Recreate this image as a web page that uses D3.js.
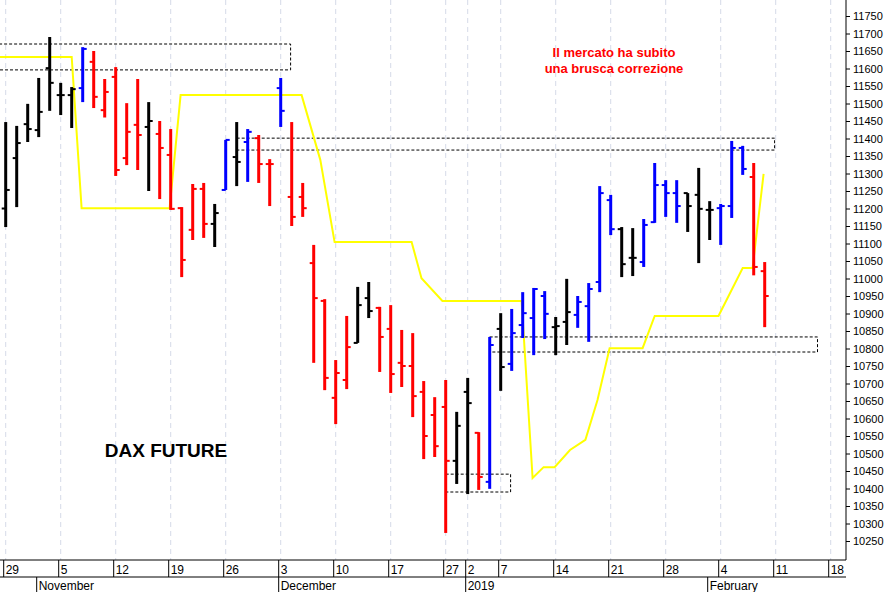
<!DOCTYPE html>
<html><head><meta charset="utf-8">
<script src="https://d3js.org/d3.v7.min.js"></script>
<style>body{margin:0;background:#fff}svg{display:block}text{font-family:"Liberation Sans",Arial,sans-serif}</style>
</head><body><svg id="c" width="896" height="592"></svg>
<script>
// bar index (trading day, 0 = 29 Oct 2018)
const opens  = [11200,11344,11441,11424,11601,11524,11524,11544,11619,11481,11576,11344,11439,11433,11413,11353,11201,11139,11256,11156,11253,11347,11390,11401,11327,11544,11233,11233,11044,10936,10659,10710,10816,10944,10916,10856,10759,10750,10676,10610,10633,10479,10676,10559,10419,10856,10756,10867,10887,10950,10861,10876,10896,10921,10990,11224,11141,11059,11047,11161,11267,11244,11244,11239,11196,11201,11207,11373,11290,11021];
const highs  = [11447,11436,11499,11573,11690,11559,11547,11661,11650,11570,11604,11501,11570,11504,11450,11427,11204,11270,11273,11213,11396,11447,11427,11410,11341,11573,11447,11273,11096,10941,10767,10893,10976,10990,10919,10924,10853,10844,10707,10661,10710,10619,10716,10561,10833,10901,10913,10961,10973,10964,10890,10999,10950,10987,11264,11239,11147,11144,11170,11330,11281,11281,11244,11316,11221,11213,11393,11379,11330,11047];
const lows   = [11147,11204,11390,11404,11479,11467,11430,11504,11487,11460,11293,11324,11310,11250,11227,11196,11004,11110,11116,11090,11253,11264,11276,11273,11207,11433,11150,11176,10759,10681,10584,10684,10816,10887,10733,10673,10690,10604,10484,10490,10273,10413,10384,10396,10399,10679,10736,10830,10781,10827,10781,10810,10859,10819,10961,11124,11004,11007,11033,11159,11176,11159,11133,11044,11110,11096,11173,11296,11009,10861];
const closes = [11253,11387,11427,11476,11559,11524,11541,11656,11519,11533,11310,11419,11410,11450,11373,11199,11053,11256,11156,11187,11396,11333,11419,11327,11327,11479,11176,11201,10944,10716,10730,10804,10924,10907,10833,10727,10750,10664,10550,10521,10479,10579,10644,10433,10810,10747,10844,10901,10970,10899,10864,10904,10933,10970,11244,11141,11041,11059,11153,11267,11244,11207,11207,11199,11196,11207,11373,11313,11033,10950];
const colors = "kkkkkkkbrrrrrkrrrrrkbkbrrbrrrrrrkkrrrrrrrkkrbkbbbbkkbbbbkkbbbbkkkbbbrr";
// yellow line: [bar index, value]
const yellowIdx = [-1,6,6.9,14.9,15.9,26.9,28.6,29.9,36.9,37.8,39.7,46.9,47.9,48.9,49.9,51.3,52.7,53.8,54.9,57.9,59,64.8,67,67.9,68.9];
const yellowVal = [11633,11633,11201,11201,11524,11524,11339,11104,11104,11001,10936,10936,10430,10461,10461,10510,10539,10653,10801,10801,10893,10893,11030,11030,11299];
// dashed boxes: [start idx, end idx, top value, bottom value]
const boxes = [[-0.6,25.9,11670,11596],[21,69.9,11401,11367],[44,73.8,10833,10790],[40,45.9,10441,10390]];
const dayTicks = [[0,"29"],[5,"5"],[10,"12"],[15,"19"],[20,"26"],[25,"3"],[30,"10"],[35,"17"],[40,"27"],[42,"2"],[45,"7"],[50,"14"],[55,"21"],[60,"28"],[65,"4"],[70,"11"],[75,"18"]];
const monthTicks = [[3,"November"],[25,"December"],[42,"2019"],[64,"February"]];
const yTicks = d3.range(10250,11751,50);

const svg = d3.select("#c");
const x = d3.scaleLinear().domain([0,1]).range([5.7,16.7]);
const y = d3.scaleLinear().domain([10250,11750]).range([541,16]);
const right = 846, bottom = 560;

// grid
svg.append("g").selectAll("line").data(dayTicks).join("line")
  .attr("x1",d=>x(d[0])).attr("x2",d=>x(d[0])).attr("y1",0).attr("y2",bottom)
  .attr("stroke","#d6dbe8").attr("stroke-dasharray","5,4");

// boxes
svg.append("g").selectAll("rect").data(boxes).join("rect")
  .attr("x",d=>x(d[0])).attr("width",d=>x(d[1])-x(d[0]))
  .attr("y",d=>y(d[2])).attr("height",d=>y(d[3])-y(d[2]))
  .attr("fill","none").attr("stroke","#000").attr("stroke-width",1).attr("stroke-dasharray","3,2");

// yellow
svg.append("path").datum(d3.zip(yellowIdx,yellowVal))
  .attr("d",d3.line().x(d=>x(d[0])).y(d=>y(d[1])))
  .attr("fill","none").attr("stroke","#ffff00").attr("stroke-width",2);

// bars
const cmap = {k:"#000",r:"#ff0000",b:"#0000ff"};
const bars = svg.append("g").selectAll("g").data(d3.range(opens.length)).join("g")
  .attr("stroke",i=>cmap[colors[i]]).attr("stroke-width",3);
bars.append("line").attr("x1",i=>x(i)).attr("x2",i=>x(i)).attr("y1",i=>y(highs[i])).attr("y2",i=>y(lows[i]));
bars.append("line").attr("x1",i=>x(i)-4).attr("x2",i=>x(i)).attr("y1",i=>y(opens[i])).attr("y2",i=>y(opens[i])).attr("stroke-width",2);
bars.append("line").attr("x1",i=>x(i)).attr("x2",i=>x(i)+4).attr("y1",i=>y(closes[i])).attr("y2",i=>y(closes[i])).attr("stroke-width",2);

// y axis
svg.append("rect").attr("x",right).attr("y",0).attr("width",896-right).attr("height",592).attr("fill","#fff");
const ya = svg.append("g").attr("transform",`translate(${right},0)`)
  .call(d3.axisRight(y).tickValues(yTicks).tickSize(4).tickPadding(3).tickFormat(d3.format("d")));
ya.select(".domain").attr("d",`M0,0V${bottom}`);
ya.selectAll("text").attr("font-size",11).attr("fill","#000").style("font-family","Liberation Sans, Arial");
ya.selectAll("line").attr("stroke","#000");

// x axis area
svg.append("rect").attr("x",0).attr("y",bottom).attr("width",896).attr("height",592-bottom).attr("fill","#fff");
svg.append("line").attr("x1",0).attr("x2",right).attr("y1",bottom).attr("y2",bottom).attr("stroke","#000");
svg.append("line").attr("x1",0).attr("x2",right).attr("y1",577).attr("y2",577).attr("stroke","#000");
svg.append("g").selectAll("line").data(dayTicks).join("line")
  .attr("x1",d=>x(d[0])-2).attr("x2",d=>x(d[0])-2).attr("y1",bottom).attr("y2",577).attr("stroke","#000");
svg.append("g").selectAll("text").data(dayTicks).join("text")
  .attr("x",d=>x(d[0])).attr("y",574).attr("font-size",12).attr("fill","#000").text(d=>d[1]);
svg.append("g").selectAll("line").data(monthTicks).join("line")
  .attr("x1",d=>x(d[0])-2).attr("x2",d=>x(d[0])-2).attr("y1",577).attr("y2",592).attr("stroke","#000");
svg.append("g").selectAll("text").data(monthTicks).join("text")
  .attr("x",d=>x(d[0])).attr("y",590).attr("font-size",12).attr("fill","#000").text(d=>d[1]);

// annotations
svg.append("text").attr("x",166).attr("y",457).attr("text-anchor","middle").attr("font-size",19).attr("font-weight","bold").attr("fill","#000").text("DAX FUTURE");
svg.append("text").attr("x",614).attr("y",57).attr("text-anchor","middle").attr("font-size",13).attr("font-weight","bold").attr("fill","#ff0000").text("Il mercato ha subito");
svg.append("text").attr("x",614).attr("y",73).attr("text-anchor","middle").attr("font-size",13).attr("font-weight","bold").attr("fill","#ff0000").text("una brusca correzione");
</script></body></html>
